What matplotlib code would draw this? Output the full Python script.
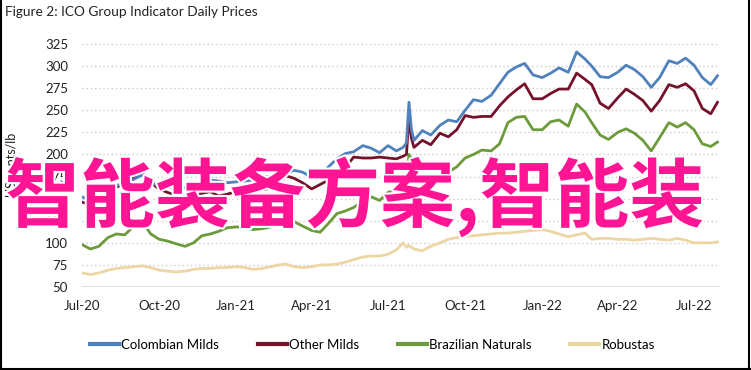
import matplotlib
matplotlib.use("Agg")
import numpy as np
import pandas as pd
from matplotlib import pyplot as plt
import matplotlib.dates as mdates
import matplotlib.patheffects as pe
from matplotlib.lines import Line2D

# Sample dates (about every 10 days, denser around the July 2021 frost spike)
dates = pd.to_datetime([
    "2020-07-01", "2020-07-11", "2020-07-21", "2020-08-01", "2020-08-11", "2020-08-21",
    "2020-09-01", "2020-09-11", "2020-09-21", "2020-10-01", "2020-10-11", "2020-10-21",
    "2020-11-01", "2020-11-11", "2020-11-21", "2020-12-01", "2020-12-11", "2020-12-21",
    "2021-01-01", "2021-01-11", "2021-01-21", "2021-02-01", "2021-02-11", "2021-02-21",
    "2021-03-01", "2021-03-11", "2021-03-21", "2021-04-01", "2021-04-11", "2021-04-21",
    "2021-05-01", "2021-05-11", "2021-05-21", "2021-06-01", "2021-06-11", "2021-06-21",
    "2021-07-01", "2021-07-11", "2021-07-19", "2021-07-23", "2021-07-26", "2021-07-29",
    "2021-08-01", "2021-08-11", "2021-08-21", "2021-09-01", "2021-09-11", "2021-09-21",
    "2021-10-01", "2021-10-11", "2021-10-21", "2021-11-01", "2021-11-11", "2021-11-21",
    "2021-12-01", "2021-12-11", "2021-12-21", "2022-01-01", "2022-01-11", "2022-01-21",
    "2022-02-01", "2022-02-11", "2022-02-21", "2022-03-01", "2022-03-11", "2022-03-21",
    "2022-04-01", "2022-04-11", "2022-04-21", "2022-05-01", "2022-05-11", "2022-05-21",
    "2022-06-01", "2022-06-11", "2022-06-21", "2022-07-01", "2022-07-11", "2022-07-21",
    "2022-07-29",
])

# US cents/lb
colombian_milds = [
    152, 148, 156, 162, 165, 167, 172, 177, 169, 164, 163, 163,
    162, 165, 169, 171, 170, 168, 169, 170, 171, 174, 175, 177,
    179, 182, 180, 174, 176, 186, 195, 201, 203, 210, 207, 202,
    210, 204, 208, 213, 259, 228,
    216, 227, 222, 233, 239, 237, 250, 262, 260, 267, 280, 293,
    299, 303, 290, 287, 292, 298, 293, 316, 308, 300, 288, 287,
    293, 301, 296, 288, 276, 287, 306, 303, 309, 301, 287, 279, 289,
]
other_milds = [
    146, 143, 150, 158, 163, 167, 174, 179, 168, 161, 157, 154,
    152, 154, 156, 158, 153, 155, 158, 156, 158, 160, 162, 168,
    176, 173, 168, 161, 166, 171, 177, 185, 197, 196, 196, 197,
    196, 195, 198, 200, 242, 218,
    208, 216, 211, 224, 220, 228, 244, 242, 243, 243, 255, 265,
    273, 280, 263, 263, 269, 274, 274, 292, 285, 279, 258, 252,
    264, 274, 268, 261, 249, 261, 279, 276, 280, 272, 252, 246, 259,
]
brazilian_naturals = [
    98, 93, 96, 106, 110, 109, 119, 124, 110, 104, 102, 99,
    96, 100, 108, 110, 113, 117, 118, 117, 115, 116, 118, 120,
    121, 124, 119, 114, 112, 122, 133, 136, 140, 147, 152, 148,
    157, 160, 160, 168, 200, 195,
    190, 185, 188, 184, 180, 186, 196, 200, 205, 204, 212, 236,
    242, 243, 228, 228, 237, 239, 232, 257, 248, 236, 222, 217,
    225, 229, 224, 216, 204, 219, 236, 231, 236, 228, 212, 209, 214,
]
robustas = [
    66, 64, 66, 69, 71, 72, 73, 74, 72, 69, 68, 67,
    68, 70, 71, 71, 72, 72, 73, 72, 70, 71, 73, 75,
    76, 73, 72, 73, 75, 75, 76, 78, 81, 84, 85, 85,
    87, 92, 100, 95, 97, 95,
    93, 91, 96, 100, 104, 106, 107, 108, 109, 110, 111, 111,
    112, 113, 114, 115, 113, 110, 107, 109, 111, 104, 105, 105,
    104, 104, 103, 104, 105, 104, 103, 105, 103, 100, 100, 100, 101,
]

series_names = ["Colombian Milds", "Other Milds", "Brazilian Naturals", "Robustas"]
series_colors = ["#4f81bd", "#75112b", "#6b9b3a", "#ecd6a2"]
series_values = [colombian_milds, other_milds, brazilian_naturals, robustas]

y_ticks = np.arange(50, 326, 25)
x_ticks = pd.to_datetime(["2020-07-01", "2020-10-01", "2021-01-01", "2021-04-01", "2021-07-01",
                          "2021-10-01", "2022-01-01", "2022-04-01", "2022-07-01"])

plt.rcParams["font.family"] = ["Lato", "DejaVu Sans"]

fig = plt.figure(figsize=(7.51, 3.70), dpi=100)
ax = fig.add_axes([0.1092, 0.2243, 0.8495, 0.6568])

# Draw the series, Colombian Milds on top
for i, (name, color, vals) in enumerate(zip(series_names, series_colors, series_values)):
    ax.plot(dates, vals, color=color, lw=2.0, label=name, zorder=10 - i)

# Axes styling
ax.set_ylim(50, 325)
ax.set_xlim(pd.Timestamp("2020-07-01"), pd.Timestamp("2022-08-01"))
ax.set_yticks(y_ticks)
ax.set_xticks(x_ticks)
ax.xaxis.set_major_formatter(mdates.DateFormatter("%b-%y"))
ax.tick_params(length=0, labelsize=9.5, colors="#222222")
ax.tick_params(axis="y", pad=10)
ax.tick_params(axis="x", pad=9)
for s in ax.spines.values():
    s.set_visible(False)
for y in y_ticks[1:]:
    ax.axhline(y, color="#cccccc", lw=1, ls=(0, (1, 2)), zorder=0)
ax.axhline(50, color="#d9d9d9", lw=1.2, zorder=1)

# Title and axis label
fig.text(5 / 751, 1 - 12 / 370, "Figure 2: ICO Group Indicator Daily Prices",
         fontsize=9.8, color="#222222", ha="left", va="center")
fig.text(12 / 751, 0.555, "US cents/lb", rotation=90, fontsize=9,
         color="#222222", ha="center", va="center")

# Legend below the plot
handles = [Line2D([0], [0], color=c, lw=3) for c in series_colors]
fig.legend(handles, series_names, loc="center", bbox_to_anchor=(0.496, 1 - 345 / 370),
           ncol=4, frameon=False, fontsize=9.5, handlelength=2.2,
           handletextpad=0.2, columnspacing=2.9)

# Black frame on left, right and bottom
for xs, ys in [([0.001, 0.001], [0, 1]), ([0.998, 0.998], [0, 1]), ([0, 1], [0.004, 0.004])]:
    fig.add_artist(Line2D(xs, ys, color="black", lw=1.5, transform=fig.transFigure))

# Big pink overlay text
fig.text(5 / 751, 1 - 197 / 370, "智能装备方案,智能装", fontsize=54, fontweight="bold",
         color="#ff1493", ha="left", va="center", zorder=20,
         family=["Noto Sans CJK SC", "DejaVu Sans"],
         path_effects=[pe.withStroke(linewidth=3, foreground="white")])

fig.savefig("out.png", dpi=100)
